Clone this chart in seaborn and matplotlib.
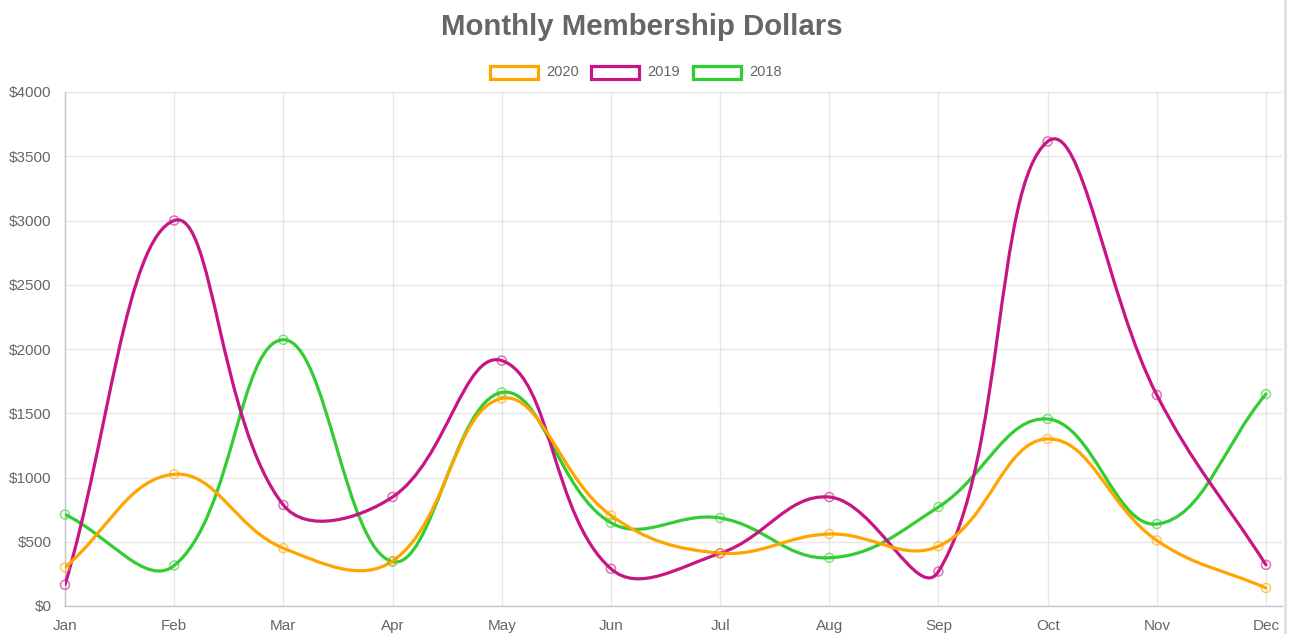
import numpy as np
import matplotlib
matplotlib.use("Agg")
import matplotlib.pyplot as plt
from matplotlib.path import Path
from matplotlib.patches import PathPatch, Rectangle
from matplotlib.lines import Line2D
from matplotlib.ticker import FuncFormatter
import seaborn as sns

# dados
meses = ["Jan", "Feb", "Mar", "Apr", "May", "Jun", "Jul", "Aug", "Sep", "Oct", "Nov", "Dec"]
anos = ["2020", "2019", "2018"]
valores_2020 = [300, 1025, 450, 350, 1615, 705, 412, 560, 465, 1300, 510, 140]
valores_2019 = [165, 3000, 786, 848, 1910, 290, 410, 848, 268, 3615, 1642, 320]
valores_2018 = [712, 315, 2072, 345, 1662, 648, 685, 375, 770, 1455, 638, 1650]
cores = ["#FFA500", "#C71585", "#32CD32"]

sns.set_style("whitegrid")
plt.rcParams["font.family"] = ["Liberation Sans", "DejaVu Sans"]

W, H = 1294, 634
fig = plt.figure(figsize=(W / 100, H / 100), dpi=100)
ax = fig.add_axes([65 / W, (H - 606) / H, (1282 - 65) / W, (606 - 92) / H])

x_dir = 11 * (1282 - 65) / (1266 - 65)
ax.set_xlim(0, x_dir)
ax.set_ylim(0, 4000)


def curva_bezier(ax, xs, ys, tensao=0.4):
    # curva estilo Chart.js (tension 0.4), calculada em pixels
    pts = ax.transData.transform(np.column_stack([xs, ys]))
    n = len(pts)
    cp_ant = np.zeros_like(pts)
    cp_prox = np.zeros_like(pts)
    for i in range(n):
        p0 = pts[max(i - 1, 0)]
        p1 = pts[i]
        p2 = pts[min(i + 1, n - 1)]
        d01 = np.hypot(*(p1 - p0))
        d12 = np.hypot(*(p2 - p1))
        tot = d01 + d12
        s01 = d01 / tot if tot else 0
        s12 = d12 / tot if tot else 0
        cp_ant[i] = p1 - tensao * s01 * (p2 - p0)
        cp_prox[i] = p1 + tensao * s12 * (p2 - p0)
    verts = [pts[0]]
    codes = [Path.MOVETO]
    for i in range(n - 1):
        verts += [cp_prox[i], cp_ant[i + 1], pts[i + 1]]
        codes += [Path.CURVE4] * 3
    verts = ax.transData.inverted().transform(np.array(verts))
    return Path(verts, codes)


series = [valores_2020, valores_2019, valores_2018]
x = np.arange(len(meses))
# 2018 embaixo, 2020 por cima
for k in [2, 1, 0]:
    caminho = curva_bezier(ax, x, series[k])
    ax.add_patch(PathPatch(caminho, fill=False, edgecolor=cores[k], lw=2.3,
                           zorder=4 - k * 0.1, capstyle="round"))
    sns.scatterplot(x=x, y=series[k], ax=ax, color=cores[k], facecolor="none",
                    edgecolor=cores[k], s=42, linewidth=1.1, alpha=0.6,
                    zorder=5 - k * 0.1, clip_on=False, legend=False)

ax.set_xticks(x, meses)
ax.set_yticks(range(0, 4001, 500))
ax.yaxis.set_major_formatter(FuncFormatter(lambda v, p: f"${v:.0f}"))
ax.set_xlabel("")
ax.set_ylabel("")
ax.grid(True, color="#e6e6e6", lw=1)
ax.tick_params(axis="both", length=7.5, width=1, color="#e6e6e6",
               labelcolor="#666666", labelsize=11, pad=2)
for lado in ["top", "right"]:
    ax.spines[lado].set_visible(False)
for lado in ["left", "bottom"]:
    ax.spines[lado].set_color("#c4c4c4")
    ax.spines[lado].set_linewidth(1)

# titulo
fig.text(641.5 / W, 1 - 27 / H, "Monthly Membership Dollars", ha="center", va="center",
         fontsize=21.2, fontweight="bold", color="#666666")

# legenda manual estilo Chart.js
for i, (ano, cor) in enumerate(zip(anos, cores)):
    x0 = 489.5 + i * 101.5
    fig.add_artist(Rectangle((x0 / W, 1 - 78.5 / H), 48 / W, 13 / H, transform=fig.transFigure,
                             facecolor="white", edgecolor=cor, lw=2.3))
    fig.text((x0 + 56.5) / W, 1 - 72.5 / H, ano, ha="left", va="center",
             fontsize=10.5, color="#666666")

# borda cinza da pagina a direita
fig.add_artist(Line2D([1284.5 / W] * 2, [0, 1], transform=fig.transFigure,
                      color="#e2e2e2", lw=2.2))

fig.savefig("out.png", dpi=100)
